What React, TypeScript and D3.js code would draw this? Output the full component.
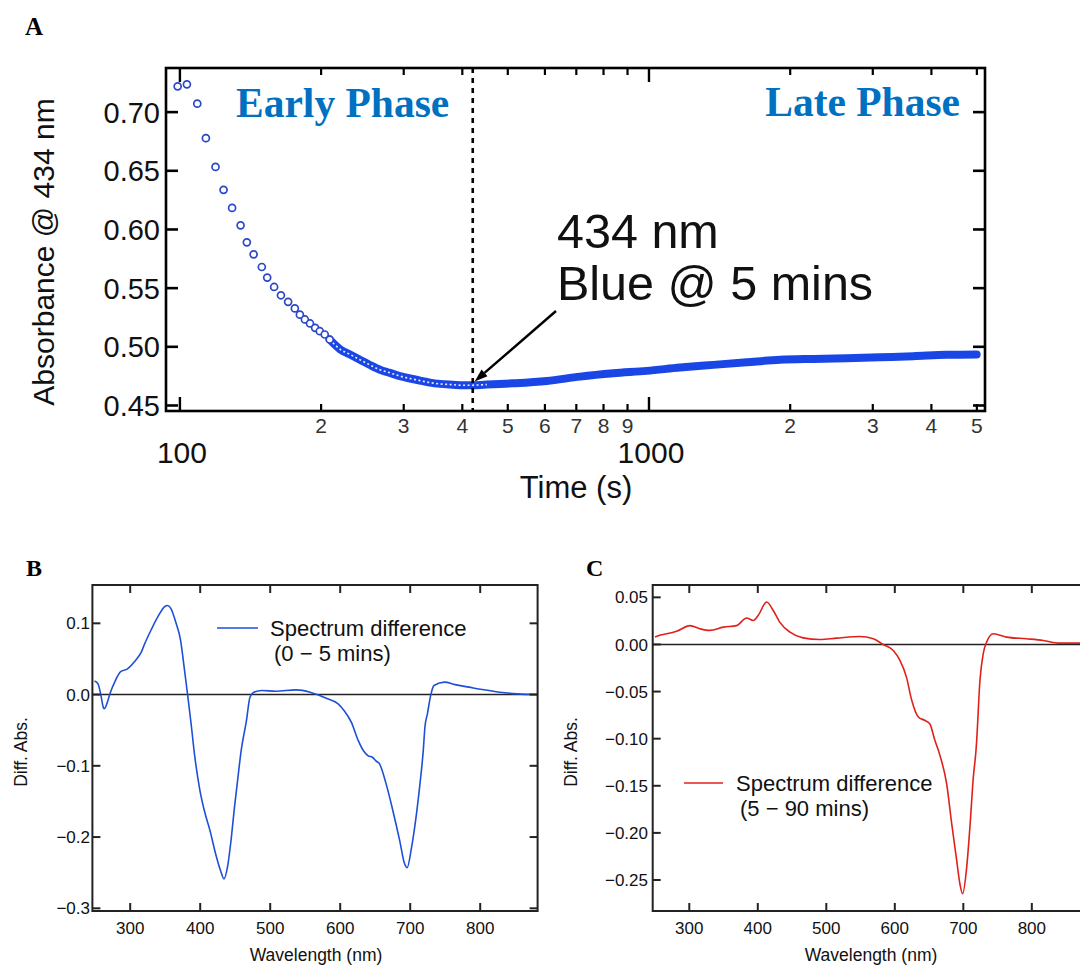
import React from "react";
import * as d3 from "d3";

// ---------- Panel A data (time in s, absorbance @ 434 nm) ----------
const timeEarly = [98.9, 103.5, 108.9, 113.6, 119.1, 123.9, 129.2, 134.7, 138.9, 143.6, 149.5, 153.5, 158.8, 164.2, 170.1, 175.8, 180.2, 184.7, 189.4, 194.2, 198.7, 203.6, 208.6];
const absEarly = [0.722, 0.7237, 0.7072, 0.6778, 0.6533, 0.6338, 0.6184, 0.6035, 0.589, 0.5788, 0.568, 0.559, 0.551, 0.5439, 0.5383, 0.5327, 0.5274, 0.5233, 0.5199, 0.5162, 0.5133, 0.5105, 0.5062];
const timeBand = [208.6, 219.4, 230.5, 242, 254.2, 267, 280.4, 294.5, 309.4, 325, 341.3, 358.5, 382, 401, 421, 436, 451, 480, 513.6, 605.3, 712.8, 839.2, 988.8, 1164.6, 1371.3, 1615.7, 1902.5, 2240.6, 2639.6, 3108.3, 3660.4, 4312.3, 4995];
const absBand = [0.5062, 0.498, 0.4935, 0.489, 0.4845, 0.4805, 0.4778, 0.475, 0.473, 0.4712, 0.4695, 0.4684, 0.4677, 0.4672, 0.4673, 0.4675, 0.4678, 0.4683, 0.4689, 0.4709, 0.4746, 0.4774, 0.4795, 0.4823, 0.4846, 0.4868, 0.4889, 0.4897, 0.4903, 0.4911, 0.492, 0.4932, 0.4935];
const hollowUntil = 470;
const phaseBoundary = 421;
const arrowTip = { t: 425, v: 0.4705 };
const yTicksA = [0.45, 0.5, 0.55, 0.6, 0.65, 0.7];
const xMajorA = [100, 1000];
const xMinorA = [200, 300, 400, 500, 600, 700, 800, 900, 2000, 3000, 4000, 5000];

// ---------- Panel B data ----------
const wlB = [249, 254, 258, 261.6, 263, 267, 271, 279, 286, 296, 306, 316, 321, 330, 340, 350, 353, 358, 365, 372, 377, 382, 387, 392, 399.5, 407, 414, 422, 429, 434, 439, 444, 449, 454, 458.6, 466, 471, 476, 488, 508, 537, 557, 567, 582, 597, 606, 616, 626, 634, 640, 646, 651, 656, 665.5, 675, 685, 692, 695.6, 702, 709, 714, 718.7, 721, 724.6, 729.5, 734, 749, 764, 784, 803, 828, 853, 882];
const diffB = [0.019, 0.015, 0.0, -0.018, -0.02, -0.012, 0.001, 0.02, 0.032, 0.036, 0.046, 0.06, 0.072, 0.091, 0.11, 0.124, 0.125, 0.121, 0.102, 0.076, 0.039, 0.0, -0.041, -0.085, -0.134, -0.167, -0.191, -0.2235, -0.247, -0.2587, -0.242, -0.205, -0.158, -0.1155, -0.078, -0.037, -0.004, 0.003, 0.0057, 0.0047, 0.0066, 0.0033, 0.0, -0.006, -0.013, -0.023, -0.039, -0.065, -0.08, -0.086, -0.088, -0.093, -0.097, -0.125, -0.162, -0.205, -0.2376, -0.243, -0.214, -0.167, -0.125, -0.078, -0.046, -0.027, 0.0, 0.0127, 0.0175, 0.014, 0.0104, 0.007, 0.0033, 0.001, 0.0];

// ---------- Panel C data ----------
const wlC = [250, 258, 267, 281.5, 301, 315.6, 330, 349.6, 369, 383.7, 393.4, 400.7, 412.9, 422.6, 432, 447, 466, 490.7, 515, 549, 568.6, 583, 597.8, 607.5, 617, 624.6, 634.3, 644, 651, 658.6, 666, 675.7, 683, 690.3, 695, 699, 705, 710, 714.6, 718.5, 719.5, 724.3, 729, 734, 743.8, 763, 792, 816.8, 841, 870, 882];
const diffC = [0.0078, 0.01, 0.0113, 0.014, 0.02, 0.0166, 0.0149, 0.0184, 0.02, 0.028, 0.0255, 0.031, 0.045, 0.036, 0.0237, 0.013, 0.007, 0.0053, 0.0067, 0.0085, 0.006, 0.0, -0.0064, -0.017, -0.0347, -0.059, -0.077, -0.0807, -0.0842, -0.102, -0.118, -0.148, -0.19, -0.229, -0.254, -0.2645, -0.236, -0.19, -0.141, -0.1125, -0.102, -0.038, -0.01, 0.0025, 0.0113, 0.0078, 0.006, 0.0042, 0.0014, 0.0014, 0.001];

const xTicksBC = [300, 400, 500, 600, 700, 800];
const yTicksB = [0.1, 0.0, -0.1, -0.2, -0.3];
const yTicksC = [0.05, 0.0, -0.05, -0.1, -0.15, -0.2, -0.25];

const SANS = "'Liberation Sans', Arial, sans-serif";
const SERIF = "'Liberation Serif', 'Times New Roman', serif";

function fmtMinus(s: string) {
  return s.replace("-", "\u2212");
}

function PanelA() {
  const L = 166, R = 985, T = 68, B = 411;
  const x = d3.scaleLog().domain([93.4, 5204]).range([L, R]);
  const y = d3.scaleLinear().domain([0.4453, 0.7376]).range([B, T]);
  const band = timeBand.map((t, i) => [t, absBand[i]] as [number, number]);
  const line = d3.line<[number, number]>().x((d) => x(d[0])).y((d) => y(d[1])).curve(d3.curveMonotoneX);
  const hollow = band.filter((d) => d[0] <= hollowUntil);
  const blue = "#1b46e6";
  const tipX = x(arrowTip.t), tipY = y(arrowTip.v);
  const tailX = 556, tailY = 311;
  const ang = Math.atan2(tipY - tailY, tipX - tailX);
  const ah = 13, aw = 4.5;
  const bx = tipX - ah * Math.cos(ang), by = tipY - ah * Math.sin(ang);
  const head = `M${tipX},${tipY} L${bx + aw * Math.sin(ang)},${by - aw * Math.cos(ang)} L${bx - aw * Math.sin(ang)},${by + aw * Math.cos(ang)} Z`;
  return (
    <g>
      <text x={25} y={35} fontFamily={SERIF} fontWeight="bold" fontSize={25}>A</text>
      {/* data */}
      <path d={line(band) || ""} fill="none" stroke={blue} strokeWidth={8} strokeLinecap="round" />
      <path d={line(hollow) || ""} fill="none" stroke="#ffffff" strokeWidth={1.6} strokeDasharray="2 2.5" opacity={0.9} />
      {timeEarly.map((t, i) => (
        <circle key={i} cx={x(t)} cy={y(absEarly[i])} r={3.5} fill="#fff" stroke="#2a48c8" strokeWidth={1.7} />
      ))}
      {/* dashed boundary */}
      <line x1={x(phaseBoundary)} x2={x(phaseBoundary)} y1={T} y2={B} stroke="#000" strokeWidth={2.6} strokeDasharray="5 5" />
      {/* frame */}
      <rect x={L} y={T} width={R - L} height={B - T} fill="none" stroke="#000" strokeWidth={2.6} />
      {yTicksA.map((v) => (
        <g key={v}>
          <line x1={L} x2={L + 12} y1={y(v)} y2={y(v)} stroke="#000" strokeWidth={2.6} />
          <line x1={R - 12} x2={R} y1={y(v)} y2={y(v)} stroke="#000" strokeWidth={2.6} />
          <text x={160} y={y(v)} dy="0.36em" textAnchor="end" fontFamily={SANS} fontSize={29} fill="#111">{v.toFixed(2)}</text>
        </g>
      ))}
      {xMajorA.map((v) => (
        <g key={v}>
          <line x1={x(v)} x2={x(v)} y1={B} y2={B - 14} stroke="#000" strokeWidth={2.4} />
          <line x1={x(v)} x2={x(v)} y1={T} y2={T + 14} stroke="#000" strokeWidth={2.4} />
          <text x={x(v) + 2} y={463} textAnchor="middle" fontFamily={SANS} fontSize={30} fill="#111">{v}</text>
        </g>
      ))}
      {xMinorA.map((v) => (
        <g key={v}>
          <line x1={x(v)} x2={x(v)} y1={B} y2={B - 7} stroke="#000" strokeWidth={2.2} />
          <line x1={x(v)} x2={x(v)} y1={T} y2={T + 7} stroke="#000" strokeWidth={2.2} />
          <text x={x(v)} y={433} textAnchor="middle" fontFamily={SANS} fontSize={21} fill="#333">{String(v).charAt(0)}</text>
        </g>
      ))}
      <text x={576} y={498} textAnchor="middle" fontFamily={SANS} fontSize={31} fill="#111">Time (s)</text>
      <text transform="translate(54,252) rotate(-90)" textAnchor="middle" fontFamily={SANS} fontSize={30} fill="#111">Absorbance @ 434 nm</text>
      <text x={236} y={117} fontFamily={SERIF} fontWeight="bold" fontSize={41.5} fill="#0070C0">Early Phase</text>
      <text x={960} y={116} textAnchor="end" fontFamily={SERIF} fontWeight="bold" fontSize={41.5} fill="#0070C0">Late Phase</text>
      <text x={557} y={248} fontFamily={SANS} fontSize={48.5} fill="#111">434 nm</text>
      <text x={557} y={300} fontFamily={SANS} fontSize={48.5} fill="#111">Blue @ 5 mins</text>
      <line x1={tailX} y1={tailY} x2={bx} y2={by} stroke="#000" strokeWidth={2.4} />
      <path d={head} fill="#000" />
    </g>
  );
}

type SpecProps = {
  id: string;
  letter: string;
  letterX: number;
  L: number;
  R: number;
  xDomain: [number, number];
  yDomain: [number, number];
  yTicks: number[];
  yFmt: (v: number) => string;
  wl: number[];
  vals: number[];
  color: string;
  legendLine: [number, number, number];
  legendText: [number, number, string, number, number, string];
  labelX: number;
  yLabelX: number;
  yLabelRight: number;
};

function SpectrumPanel(p: SpecProps) {
  const T = 585, B = 911;
  const x = d3.scaleLinear().domain(p.xDomain).range([p.L, p.R]);
  const y = d3.scaleLinear().domain(p.yDomain).range([B, T]);
  const pts = p.wl.map((w, i) => [w, p.vals[i]] as [number, number]);
  const line = d3.line<[number, number]>().x((d) => x(d[0])).y((d) => y(d[1])).curve(d3.curveMonotoneX);
  return (
    <g>
      <defs>
        <clipPath id={p.id}>
          <rect x={p.L} y={T} width={p.R - p.L} height={B - T} />
        </clipPath>
      </defs>
      <text x={p.letterX} y={576} fontFamily={SERIF} fontWeight="bold" fontSize={24}>{p.letter}</text>
      <line x1={p.L} x2={p.R} y1={y(0)} y2={y(0)} stroke="#222" strokeWidth={1.6} />
      <path d={line(pts) || ""} fill="none" stroke={p.color} strokeWidth={1.6} clipPath={`url(#${p.id})`} />
      <rect x={p.L} y={T} width={p.R - p.L} height={B - T} fill="none" stroke="#222" strokeWidth={2} />
      {xTicksBC.map((v) => (
        <g key={v}>
          <line x1={x(v)} x2={x(v)} y1={B} y2={B - 8} stroke="#222" strokeWidth={2} />
          <line x1={x(v)} x2={x(v)} y1={T} y2={T + 8} stroke="#222" strokeWidth={2} />
          <text x={x(v)} y={934} textAnchor="middle" fontFamily={SANS} fontSize={17} fill="#111">{v}</text>
        </g>
      ))}
      {p.yTicks.map((v) => (
        <g key={v}>
          <line x1={p.L} x2={p.L + 8} y1={y(v)} y2={y(v)} stroke="#222" strokeWidth={2} />
          <line x1={p.R - 8} x2={p.R} y1={y(v)} y2={y(v)} stroke="#222" strokeWidth={2} />
          <text x={p.yLabelRight} y={y(v)} dy="0.36em" textAnchor="end" fontFamily={SANS} fontSize={17} fill="#111">{fmtMinus(p.yFmt(v))}</text>
        </g>
      ))}
      <text x={p.labelX} y={961} textAnchor="middle" fontFamily={SANS} fontSize={17.5} fill="#111">Wavelength (nm)</text>
      <text transform={`translate(${p.yLabelX},752) rotate(-90)`} textAnchor="middle" fontFamily={SANS} fontSize={17.5} fill="#111">Diff. Abs.</text>
      <line x1={p.legendLine[0]} x2={p.legendLine[1]} y1={p.legendLine[2]} y2={p.legendLine[2]} stroke={p.color} strokeWidth={1.6} />
      <text x={p.legendText[0]} y={p.legendText[1]} fontFamily={SANS} fontSize={22} fill="#111">{p.legendText[2]}</text>
      <text x={p.legendText[3]} y={p.legendText[4]} fontFamily={SANS} fontSize={22} fill="#111">{p.legendText[5]}</text>
    </g>
  );
}

export default function App() {
  return (
    <svg
      width={1080}
      height={965}
      viewBox="0 0 1080 965"
      style={{ position: "absolute", left: 0, top: 0, background: "#fff" }}
    >
      <rect x={0} y={0} width={1080} height={965} fill="#fff" />
      <PanelA />
      <SpectrumPanel
        id="clipB"
        letter="B"
        letterX={26}
        L={92.4}
        R={537.6}
        xDomain={[246, 882]}
        yDomain={[-0.3038, 0.1538]}
        yTicks={yTicksB}
        yFmt={(v) => v.toFixed(1)}
        wl={wlB}
        vals={diffB}
        color="#1f4fd8"
        legendLine={[217, 258, 628]}
        legendText={[270, 636, "Spectrum difference", 274, 661, "(0 \u2212 5 mins)"]}
        labelX={316}
        yLabelX={27}
        yLabelRight={90}
      />
      <SpectrumPanel
        id="clipC"
        letter="C"
        letterX={586}
        L={652.7}
        R={1088}
        xDomain={[246.6, 882]}
        yDomain={[-0.2829, 0.0631]}
        yTicks={yTicksC}
        yFmt={(v) => v.toFixed(2)}
        wl={wlC}
        vals={diffC}
        color="#e0201b"
        legendLine={[684, 723, 783]}
        legendText={[736, 791, "Spectrum difference", 740, 816, "(5 \u2212 90 mins)"]}
        labelX={871}
        yLabelX={577}
        yLabelRight={648}
      />
    </svg>
  );
}
